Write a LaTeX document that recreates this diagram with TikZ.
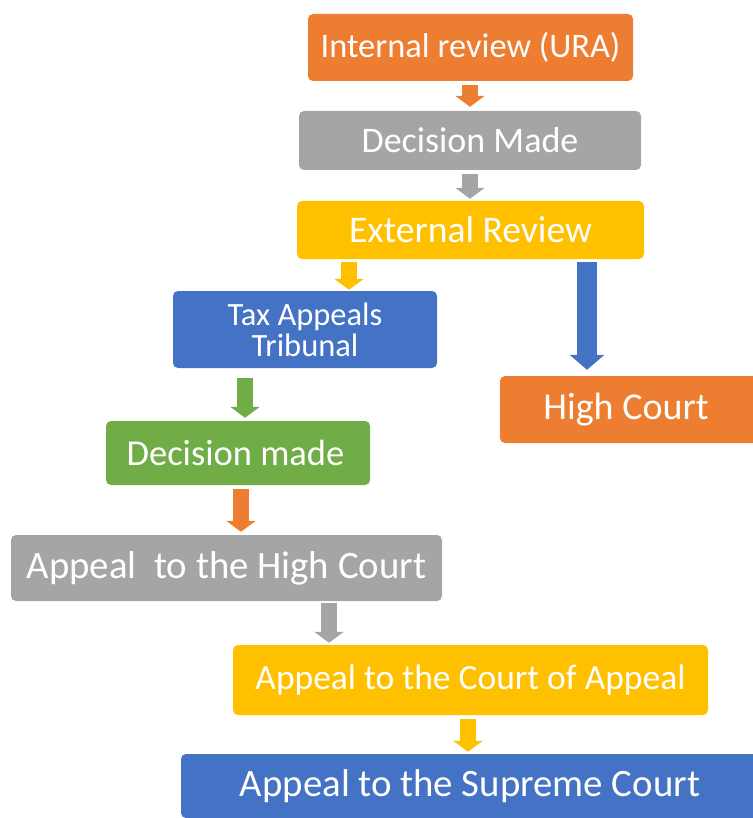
\documentclass[tikz,border=0pt]{standalone}
\usepackage{fontspec}
\setmainfont{Carlito}
\usetikzlibrary{arrows.meta}
\definecolor{cOrange}{HTML}{ED7D31}
\definecolor{cGray}{HTML}{A5A5A5}
\definecolor{cGold}{HTML}{FFC000}
\definecolor{cBlue}{HTML}{4472C4}
\definecolor{cGreen}{HTML}{70AD47}
\newcommand{\fs}[1]{\fontsize{#1}{#1}\selectfont}
\tikzset{
  box/.style={rounded corners=5pt, text=white, inner sep=0pt, anchor=center},
  arr/.style={draw=#1, line width=16pt, -{Triangle[width=29pt,length=11pt]}},
}
\begin{document}
\begin{tikzpicture}[x=1pt,y=-1pt]
\useasboundingbox (0,0) rectangle (752,818);
\node (intr) [box,fill=cOrange,minimum width=325,minimum height=67,font=\fs{34.4}] at (470.5,47.5) {Internal review (URA)};
\node (dec1) [box,fill=cGray,minimum width=342,minimum height=59,font=\fs{36}] at (470,140.5) {Decision Made};
\node (ext) [box,fill=cGold,minimum width=347,minimum height=58,font=\fs{37.6}] at (470.5,230) {External Review};
\node (tax) [box,fill=cBlue,minimum width=264,minimum height=77,align=center,font=\fontsize{32.5}{31}\selectfont] at (305,329.5) {Tax Appeals\\Tribunal};
\node (hc) [box,fill=cOrange,minimum width=260,minimum height=67,font=\fs{38}] at (630,409.5) {\hspace*{-8pt}High Court};
\node (dec2) [box,fill=cGreen,minimum width=264,minimum height=64,font=\fs{36.5}] at (238,453) {\hspace*{-5pt}Decision made};
\node (ahc) [box,fill=cGray,minimum width=431,minimum height=66,font=\fs{38.8}] at (226.5,568) {Appeal\ \ to the High Court};
\node (aca) [box,fill=cGold,minimum width=475,minimum height=70,font=\fs{35.5}] at (470.5,680) {Appeal to the Court of Appeal};
\node (asc) [box,fill=cBlue,minimum width=590,minimum height=64,font=\fs{38.8}] at (476,786) {\hspace*{-12pt}Appeal to the Supreme Court};
\coordinate (x1) at (470,0);
\coordinate (x2) at (349,0);
\coordinate (x3) at (587,0);
\coordinate (x4) at (245,0);
\coordinate (x5) at (241,0);
\coordinate (x6) at (329,0);
\coordinate (x7) at (468,0);
\draw[arr=cOrange,shorten <=4pt,shorten >=4pt] (intr.south -| x1) -- (dec1.north -| x1);
\draw[arr=cGray,shorten <=4pt,shorten >=2pt] (dec1.south -| x1) -- (ext.north -| x1);
\draw[arr=cGold,shorten <=3pt,shorten >=1pt] (ext.south -| x2) -- (tax.north -| x2);
\draw[arr=cBlue,line width=20pt,-{Triangle[width=34pt,length=15pt]},shorten <=3pt,shorten >=6pt] (ext.south -| x3) -- (hc.north -| x3);
\draw[arr=cGreen,shorten <=10pt,shorten >=3pt] (tax.south -| x4) -- (dec2.north -| x4);
\draw[arr=cOrange,shorten <=4pt,shorten >=3pt] (dec2.south -| x5) -- (ahc.north -| x5);
\draw[arr=cGray,shorten <=2pt,shorten >=2pt] (ahc.south -| x6) -- (aca.north -| x6);
\draw[arr=cGold,shorten <=4pt,shorten >=2pt] (aca.south -| x7) -- (asc.north -| x7);
\end{tikzpicture}
\end{document}
